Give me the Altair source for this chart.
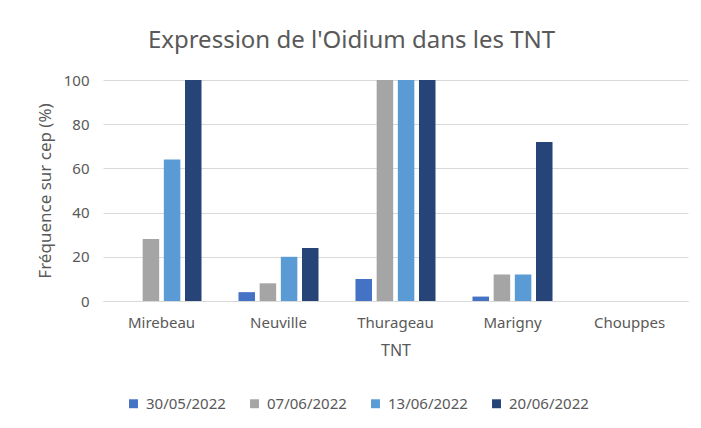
import altair as alt
import pandas as pd

sites = ["Mirebeau", "Neuville", "Thurageau", "Marigny", "Chouppes"]
dates = ["30/05/2022", "07/06/2022", "13/06/2022", "20/06/2022"]
v_3005 = [0, 4, 10, 2, 0]
v_0706 = [28, 8, 100, 12, 0]
v_1306 = [64, 20, 100, 12, 0]
v_2006 = [100, 24, 100, 72, 0]
colors = ["#4472C4", "#A5A5A5", "#5B9BD5", "#264478"]

rows = []
for d, vals in zip(dates, [v_3005, v_0706, v_1306, v_2006]):
    for s, v in zip(sites, vals):
        rows.append({"TNT": s, "Date": d, "Valeur": v})
df = pd.DataFrame(rows)

FONT = "Noto Sans"
TXT = "#595959"

chart = alt.Chart(df).mark_bar().encode(
    x=alt.X("TNT:N", sort=sites,
            scale=alt.Scale(paddingInner=0.316, paddingOuter=0.158),
            axis=alt.Axis(title="TNT", labelAngle=0, ticks=False, labelPadding=14,
                          titlePadding=12, domainColor="#D9D9D9", labelFontSize=15,
                          titleFontSize=16, labelColor=TXT, titleColor=TXT,
                          labelFont=FONT, titleFont=FONT, titleFontWeight="normal")),
    xOffset=alt.XOffset("Date:N", sort=dates, scale=alt.Scale(paddingInner=0.22, paddingOuter=0)),
    y=alt.Y("Valeur:Q", scale=alt.Scale(domain=[0, 100]),
            axis=alt.Axis(title="Fréquence sur cep (%)", values=[0, 20, 40, 60, 80, 100],
                          domain=False, ticks=False, labelPadding=14, titlePadding=9,
                          gridColor="#D9D9D9", labelFontSize=15, titleFontSize=17,
                          labelColor=TXT, titleColor=TXT, labelFont=FONT, titleFont=FONT,
                          titleFontWeight="normal")),
    color=alt.Color("Date:N", sort=dates, scale=alt.Scale(domain=dates, range=colors),
                    legend=alt.Legend(title=None, orient="none", direction="horizontal",
                                      legendX=23, legendY=316, symbolType="square",
                                      symbolSize=80, symbolStrokeWidth=0, labelFontSize=15,
                                      labelColor=TXT, labelFont=FONT, columnPadding=21,
                                      labelOffset=5)),
).properties(
    width=585, height=221,
    title=alt.TitleParams("Expression de l'Oidium dans les TNT", fontSize=24, font=FONT,
                          color=TXT, fontWeight="normal", dx=-44, offset=20),
    autosize=alt.AutoSizeParams(type="none"),
    padding={"left": 95, "top": 72, "right": 5, "bottom": 120},
).configure_view(stroke=None)

chart.save("out.html", embed_options={"renderer": "svg", "actions": False})
